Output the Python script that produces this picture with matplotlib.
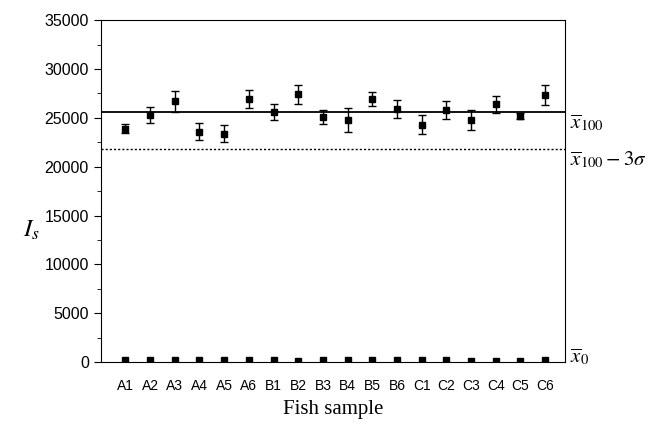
import numpy as np
import matplotlib
matplotlib.use("Agg")
import matplotlib.pyplot as plt
from matplotlib.ticker import MultipleLocator

plt.rcParams['mathtext.fontset'] = 'stix'

# Fish samples and measured signal intensities
samples = ['A1', 'A2', 'A3', 'A4', 'A5', 'A6',
           'B1', 'B2', 'B3', 'B4', 'B5', 'B6',
           'C1', 'C2', 'C3', 'C4', 'C5', 'C6']
spiked = [23900, 25300, 26700, 23600, 23400, 26900,
          25600, 27400, 25100, 24800, 26900, 25900,
          24300, 25800, 24800, 26400, 25150, 27300]
spiked_err = [430, 790, 1050, 890, 900, 920,
              850, 960, 720, 1230, 720, 890,
              990, 890, 1020, 890, 300, 1020]
blank = [250, 250, 250, 250, 250, 250,
         250, 150, 250, 250, 250, 250,
         250, 250, 150, 150, 150, 250]
mean_100 = 25600
limit_3s = 21800

x = np.arange(1, len(samples) + 1)

fig = plt.figure(figsize=(6.5, 4.3), dpi=100)
ax = fig.add_axes([0.155, 0.158, 0.714, 0.795])

ax.axhline(mean_100, color='black', lw=1.3)
ax.axhline(limit_3s, color='black', lw=1.0, ls=(0, (1.5, 1.5)))

ax.errorbar(x, spiked, yerr=spiked_err, fmt='s', color='black',
            ms=5, capsize=3, elinewidth=1.0, capthick=1.0)
ax.plot(x, blank, 's', color='black', ms=4)

ax.set_xlim(0, 18.8)
ax.set_ylim(0, 35000)
ax.set_xticks(x)
ax.set_xticklabels(samples, fontsize=10, family='Liberation Sans')
ax.tick_params(axis='x', length=0, pad=12)
ax.yaxis.set_major_locator(MultipleLocator(5000))
ax.yaxis.set_minor_locator(MultipleLocator(2500))
ax.tick_params(axis='y', which='major', direction='out', length=5, labelsize=11.5)
ax.tick_params(axis='y', which='minor', direction='out', length=3)
for lab in ax.get_yticklabels():
    lab.set_family('Liberation Sans')

ax.set_xlabel('Fish sample', family='Liberation Serif', fontsize=15, labelpad=5)
ax.set_ylabel('$I_s$', fontsize=18, rotation=0)
ax.yaxis.set_label_coords(-0.15, 0.35)

tr = ax.get_yaxis_transform()
ax.text(1.012, mean_100, r'$\overline{x}_{100}$', transform=tr, fontsize=15,
        va='top', ha='left')
ax.text(1.012, limit_3s, r'$\overline{x}_{100}-3\sigma$', transform=tr, fontsize=15,
        va='top', ha='left')
ax.text(1.012, 1600, r'$\overline{x}_{0}$', transform=tr, fontsize=15,
        va='top', ha='left')

fig.savefig('out.png', dpi=100)
